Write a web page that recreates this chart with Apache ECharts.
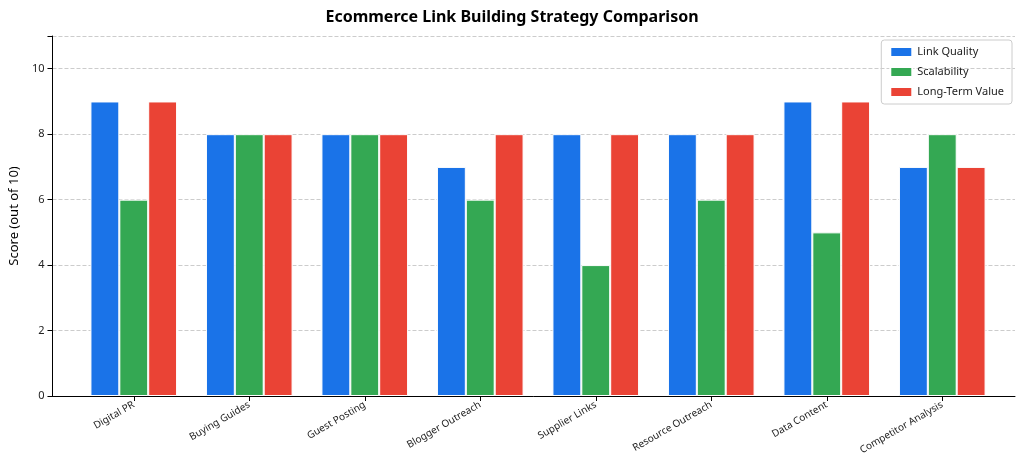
<!DOCTYPE html>
<html>
<head>
<meta charset="UTF-8">
<script src="https://cdn.jsdelivr.net/npm/echarts@6/dist/echarts.min.js"></script>
<style>html,body{margin:0;background:#fff}#c{width:1024px;height:467px}</style>
</head>
<body>
<div id="c"></div>
<script>
var categories = ['Digital PR', 'Buying Guides', 'Guest Posting', 'Blogger Outreach', 'Supplier Links', 'Resource Outreach', 'Data Content', 'Competitor Analysis'];
var linkQuality = [9, 8, 8, 7, 8, 8, 9, 7];
var scalability = [6, 8, 8, 6, 4, 6, 5, 8];
var longTermValue = [9, 8, 8, 8, 8, 8, 9, 7];
var yTicks = [0, 2, 4, 6, 8, 10];

var font = 'Noto Sans';
function bar(name, data, color) {
    return {
        name: name, type: 'bar', data: data, barGap: '0%', barCategoryGap: '25%',
        xAxisIndex: 1, yAxisIndex: 1,
        itemStyle: { color: color, borderColor: '#fff', borderWidth: 1 }
    };
}
var myChart = echarts.init(document.getElementById('c'));
myChart.setOption({
    textStyle: { fontFamily: font },
    title: {
        text: 'Ecommerce Link Building Strategy Comparison', left: 'center', top: 4,
        textStyle: { fontFamily: font, fontSize: 16, fontWeight: 'bold', color: '#000' }
    },
    legend: {
        right: 12, top: 40, orient: 'vertical', itemWidth: 22, itemHeight: 10, itemGap: 8,
        borderColor: '#ccc', borderWidth: 1, borderRadius: 3, padding: [6, 8],
        textStyle: { fontSize: 11, color: '#222' },
        icon: 'rect'
    },
    // grid 0 carries the full-width axes, grid 1 holds the bars with side padding
    grid: [
        { left: 45, right: 9, top: 36, bottom: 71 },
        { left: 76, right: 24, top: 36, bottom: 71 }
    ],
    xAxis: [{
        type: 'value', gridIndex: 0, min: 0, max: 1,
        axisLine: { show: true, onZero: false, lineStyle: { color: '#000' } },
        axisTick: { show: false }, axisLabel: { show: false }, splitLine: { show: false }
    }, {
        type: 'category', gridIndex: 1, data: categories,
        axisLine: { show: false },
        axisTick: { show: true, alignWithLabel: true, lineStyle: { color: '#000' } },
        axisLabel: { rotate: 30, fontSize: 10, color: '#222', margin: 8 }
    }],
    yAxis: [{
        type: 'value', gridIndex: 0, min: 0, max: 11, interval: 2,
        name: 'Score (out of 10)', nameLocation: 'middle', nameGap: 28,
        nameTextStyle: { fontSize: 13, color: '#000' },
        axisLine: { show: true, lineStyle: { color: '#000' } },
        axisTick: { show: true, lineStyle: { color: '#000' } },
        axisLabel: {
            fontSize: 11, color: '#222',
            formatter: function (v) { return yTicks.indexOf(v) >= 0 ? v : ''; }
        },
        splitLine: { lineStyle: { type: 'dashed', color: '#ccc' } }
    }, {
        type: 'value', gridIndex: 1, min: 0, max: 11, show: false
    }],
    series: [
        bar('Link Quality', linkQuality, '#1a73e8'),
        bar('Scalability', scalability, '#34a853'),
        bar('Long-Term Value', longTermValue, '#ea4335')
    ]
});
</script>
</body>
</html>
